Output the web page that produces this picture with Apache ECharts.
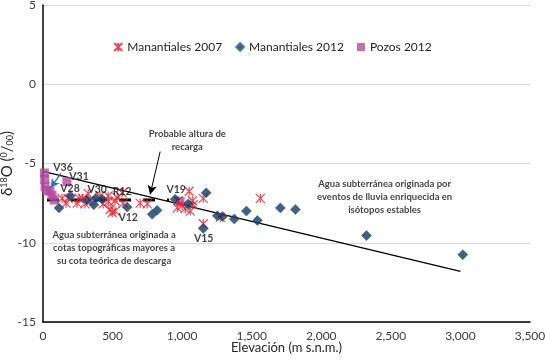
<!DOCTYPE html>
<html><head><meta charset="utf-8">
<script src="https://cdn.jsdelivr.net/npm/echarts@6/dist/echarts.min.js"></script>
<style>html,body{margin:0;padding:0;background:#fff}#c{width:545px;height:363px}</style>
</head><body><div id="c"></div>
<script>
// ---- data ----
const manantiales2007 = [[137,-7.2],[166,-7.5],[180,-7.2],[245,-7.5],[260,-7.2],[285,-7.2],[302,-7.55],[325,-6.9],[340,-7.35],[410,-7.05],[432,-7.55],[468,-7.05],[470,-7.4],[482,-7.9],[497,-8.1],[518,-8.0],[518,-7.35],[533,-7.15],[569,-6.85],[576,-7.5],[698,-7.5],[749,-7.55],[965,-7.8],[972,-7.35],[1000,-7.65],[1022,-7.85],[1050,-6.75],[1058,-8.0],[1073,-7.35],[1080,-7.6],[1152,-7.2],[1152,-8.8],[1274,-8.4],[1562,-7.2]];
const manantiales2012 = [[115,-7.8],[197,-7.05],[317,-7.3],[365,-7.6],[380,-7.2],[425,-7.25],[605,-7.75],[785,-8.2],[820,-7.95],[950,-7.25],[1044,-7.55],[1173,-6.85],[1152,-9.1],[1253,-8.3],[1290,-8.35],[1375,-8.5],[1462,-8.0],[1541,-8.6],[1706,-7.8],[1814,-7.9],[2325,-9.55],[3017,-10.75]];
const pozos2012 = [[10,-5.6],[12,-6.0],[15,-6.45],[30,-6.7],[50,-6.75],[65,-7.0],[80,-7.3],[172,-6.15],[985,-7.4]];
const regressionLine = [[0,-5.5],[3000,-11.8]];
const rechargeLevel = [[29,-7.3],[907,-7.3]];
const xTickLabels = ['0','500','1,000','1,500','2,000','2,500','3,000','3,500'];
const yTickLabels = ['-15','-10','-5','0','5'];
const pointLabels = [
  {name:'V36', value:[144,-5.28]},
  {name:'V31', value:[259,-5.8]},
  {name:'V28', value:[194,-6.6]},
  {name:'V30', value:[389,-6.65]},
  {name:'R12', value:[569,-6.78]},
  {name:'V12', value:[612,-8.4]},
  {name:'V19', value:[957,-6.65]},
  {name:'V15', value:[1155,-9.75]}
];
const notes = [
  {name:'Probable altura de\nrecarga', value:[1037,-3.55]},
  {name:'Agua subterránea originada por\neventos de lluvia enriquecida en\nisótopos estables', value:[2455,-7.1]},
  {name:'Agua subterránea originada a\ncotas topográficas mayores a\nsu cota teórica de descarga', value:[511,-10.3]}
];
const rechargeArrow = [[842,-4.25],[770,-6.95]];
const v36Arrow = [[128,-5.62],[55,-6.55]];

const FONT = 'Lato';
const chart = echarts.init(document.getElementById('c'), null, {renderer:'canvas'});
const asterisk = 'path://M0,0L10,10M10,0L0,10M5,0L5,10';
chart.setOption({
  animation:false,
  textStyle:{fontFamily:FONT},
  grid:{left:43,right:15,top:5,bottom:41,containLabel:false,outerBoundsMode:'none'},
  legend:{
    top:36, left:'center', itemWidth:8, itemHeight:8, itemGap:13,
    textStyle:{fontFamily:FONT,fontSize:12,color:'#262626'},
    data:['Manantiales 2007','Manantiales 2012','Pozos 2012']
  },
  xAxis:{
    type:'value', min:0, max:3500, interval:500,
    name:'Elevación (m s.n.m.)', nameLocation:'middle', nameGap:19, nameMoveOverlap:false,
    nameTextStyle:{fontFamily:FONT,fontSize:13,color:'#262626'},
    axisLine:{onZero:false,lineStyle:{color:'#000',width:1.5}},
    axisTick:{show:false},
    splitLine:{show:false},
    axisLabel:{fontFamily:FONT,fontSize:12,color:'#404040',margin:8,
      formatter:(v)=>xTickLabels[Math.round(v/500)]}
  },
  yAxis:{
    type:'value', min:-15, max:5, interval:5,
    name:'δ{sup|18}O ({sup|0}/{sub|00})', nameLocation:'middle', nameGap:28, nameRotate:90, nameMoveOverlap:false,
    nameTextStyle:{fontFamily:FONT,fontSize:15,color:'#262626',
      rich:{sup:{fontSize:9,verticalAlign:'top',lineHeight:12,padding:[0,0,6,0],fontFamily:FONT,color:'#262626'},
            sub:{fontSize:9,verticalAlign:'bottom',padding:[6,0,0,0],fontFamily:FONT,color:'#262626'}}},
    axisLine:{show:true,onZero:false,lineStyle:{color:'#000',width:1.5}},
    axisTick:{show:false},
    splitLine:{lineStyle:{color:'#d9d9d9',width:1}},
    axisLabel:{fontFamily:FONT,fontSize:12,color:'#404040',margin:7,
      formatter:(v)=>yTickLabels[Math.round((v+15)/5)]}
  },
  series:[
    {type:'line', name:'regression', data:regressionLine, symbol:'none', silent:true,
     lineStyle:{color:'#000',width:1.3}, z:1},
    {type:'line', name:'recharge', data:rechargeLevel, symbol:'none', silent:true,
     lineStyle:{color:'#000',width:3,type:[12,12]}, z:1},
    {type:'scatter', name:'Manantiales 2007', data:manantiales2007, symbol:asterisk, symbolSize:9,
     itemStyle:{color:'rgba(0,0,0,0)',borderColor:'#ee1c25',borderWidth:1.2}, z:3},
    {type:'scatter', name:'Manantiales 2012', data:manantiales2012, symbol:'diamond', symbolSize:10,
     itemStyle:{color:'#17375e',borderColor:'#3d6ea8',borderWidth:0.8}, z:4},
    {type:'scatter', name:'Pozos 2012', data:pozos2012, symbol:'rect', symbolSize:9,
     itemStyle:{color:'#b4489f'}, z:2},
    {type:'scatter', name:'labels', data:pointLabels, symbolSize:1, silent:true,
     itemStyle:{color:'rgba(0,0,0,0)'},
     label:{show:true,position:'inside',formatter:'{b}',fontFamily:FONT,fontSize:10.5,fontWeight:'bold',color:'#111'}, z:5},
    {type:'scatter', name:'notes', data:notes, symbolSize:1, silent:true,
     itemStyle:{color:'rgba(0,0,0,0)'},
     label:{show:true,position:'inside',formatter:'{b}',fontFamily:FONT,fontSize:9.5,fontWeight:'bold',color:'#111',lineHeight:13,align:'center'}, z:5},
    {type:'line', name:'arrows', data:[], symbol:'none', silent:true,
     markLine:{silent:true, animation:false, symbol:['none','arrow'], symbolSize:[7,9], label:{show:false},
       data:[
         [{coord:rechargeArrow[0],lineStyle:{color:'#000',width:1,type:'solid'}},{coord:rechargeArrow[1]}],
         [{coord:v36Arrow[0],lineStyle:{color:'#2e75b6',width:1.3,type:'solid'}},{coord:v36Arrow[1]}]
       ]}}
  ]
});
</script>
</body></html>
